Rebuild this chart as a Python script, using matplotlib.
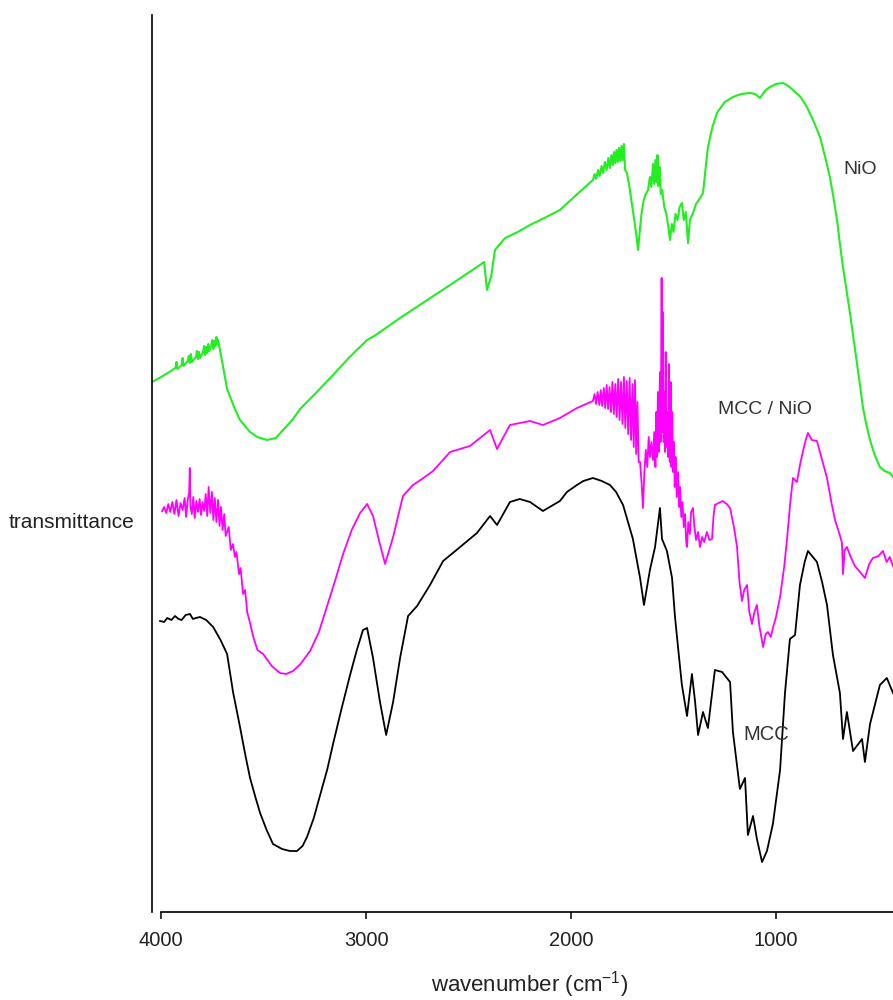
import matplotlib
matplotlib.use("Agg")
import matplotlib.pyplot as plt

plt.rcParams['font.family'] = ['Liberation Sans', 'DejaVu Sans']
plt.rcParams['mathtext.default'] = 'regular'

# ---- FTIR spectra: wavenumber (cm-1) and transmittance (arbitrary, offset units) ----
nio_wn = [4044, 4000, 3960, 3930, 3925, 3920, 3900, 3895, 3890, 3870, 3865, 3860, 3855, 3850,
          3830, 3825, 3820, 3815, 3810, 3795, 3790, 3785, 3780, 3775, 3770, 3765, 3755, 3750,
          3745, 3740, 3735, 3730, 3725, 3722, 3700, 3678, 3640, 3615, 3566, 3530, 3483, 3440,
          3405, 3360, 3322, 3240, 3161, 3080, 2995,
          2960, 2834, 2590, 2444, 2424, 2410, 2400, 2390, 2371, 2322, 2260, 2200, 2130, 2054,
          1980, 1893,
          1885, 1877, 1868, 1860, 1851, 1843, 1835, 1826, 1818, 1810, 1803, 1796, 1790, 1784,
          1778, 1772, 1766, 1760, 1754, 1748, 1742, 1736, 1727, 1715, 1702, 1690, 1680, 1673,
          1665, 1655, 1645, 1635, 1624, 1615, 1608, 1600, 1594, 1588, 1582, 1578, 1573, 1568,
          1562, 1555, 1545, 1535, 1525, 1517, 1508, 1500, 1490, 1480, 1470, 1459, 1450, 1440,
          1429, 1420, 1405, 1390, 1370, 1356, 1345, 1332, 1310, 1288, 1250, 1210, 1170, 1127,
          1100, 1078, 1050, 1029, 1000, 966, 940, 917, 880, 849, 815, 785, 760, 737, 720, 702,
          688, 673, 656, 639, 622, 605, 590, 576, 560, 541, 520, 493, 470, 444, 429]
nio_t = [530, 535, 540, 544, 550, 543, 547, 554, 546, 551, 556, 549, 558, 550,
         555, 561, 553, 560, 554, 560, 566, 557, 565, 559, 568, 561, 567, 572,
         563, 571, 566, 575, 568, 572, 548, 523, 503, 492, 480, 475, 472, 474,
         482, 492, 503, 520, 537, 555, 572,
         576, 594, 627, 647, 650, 622, 629, 635, 662, 674, 680, 687, 694, 702,
         716, 732,
         738, 733, 742, 736, 746, 739, 750, 742, 754, 744, 757, 747, 760, 749,
         762, 750, 764, 751, 766, 752, 768, 742, 739, 725, 707, 690, 675, 662,
         680, 700, 712, 718, 722, 735, 725, 748, 728, 752, 730, 757, 726, 745,
         718, 722, 705, 698, 685, 672, 688, 680, 698, 692, 705, 709, 692, 700,
         669, 692, 699, 708, 714, 719, 740, 765, 785, 799, 810, 815, 818, 819,
         818, 814, 822, 825, 828, 829, 826, 822, 815, 805, 790, 775, 755, 735, 715, 692,
         668, 645, 622, 599, 574, 549, 527, 505, 488, 472, 458, 445, 441, 439, 435]

mccnio_wn = [3995, 3985, 3975, 3965, 3955, 3945, 3935, 3925, 3915, 3905, 3895, 3885, 3878,
             3870, 3863, 3860, 3857, 3850, 3843, 3836, 3828, 3820, 3812, 3805, 3798, 3790,
             3782, 3775, 3768, 3760, 3752, 3745, 3738, 3730, 3722, 3715, 3708, 3700, 3692,
             3685, 3670, 3660, 3649, 3640, 3632, 3620, 3612, 3600, 3590, 3580, 3566, 3550,
             3530, 3502, 3460, 3420, 3390, 3356, 3320, 3273, 3230, 3190, 3150, 3112, 3070,
             3029, 2995, 2966, 2935, 2907, 2868, 2820, 2771, 2720, 2673,
             2590, 2493, 2395, 2361, 2298, 2200, 2137, 2054, 1971, 1893,
             1885, 1878, 1870, 1862, 1855, 1848, 1840, 1833, 1826, 1819, 1812, 1805, 1798,
             1791, 1784, 1777, 1770, 1763, 1756, 1749, 1742, 1735, 1728, 1721, 1714, 1707,
             1700, 1694, 1688, 1682, 1676, 1670, 1663, 1656, 1649, 1642, 1635, 1628, 1621,
             1615, 1608, 1600, 1594, 1588, 1584, 1580, 1576, 1572, 1566, 1562, 1558, 1555,
             1552, 1548, 1545, 1541, 1538, 1534, 1530, 1526, 1522, 1518, 1514, 1510, 1506,
             1502, 1498, 1494, 1490, 1484, 1478, 1472, 1468, 1462, 1456, 1450, 1444, 1438,
             1434, 1428, 1420, 1414, 1405, 1398, 1390, 1380, 1371, 1360, 1350, 1337, 1325,
             1312, 1305, 1298, 1280, 1259, 1240, 1224, 1205, 1190, 1178, 1166, 1155, 1141,
             1130, 1117, 1105, 1093, 1080, 1063, 1050, 1039, 1025, 1015, 1000, 980, 960,
             946, 930, 917, 898, 880, 868, 855, 844, 825, 800, 775, 751, 730, 712, 690,
             678, 673, 665, 654, 635, 615, 590, 566, 545, 527, 500, 478, 460, 445, 429]
mccnio_t = [401, 405, 399, 408, 400, 410, 398, 412, 396, 409, 402, 414, 395,
            412, 420, 444, 405, 398, 415, 394, 411, 400, 413, 397, 410, 401,
            418, 396, 425, 399, 420, 392, 414, 390, 412, 386, 405, 382, 398,
            376, 385, 362, 368, 355, 360, 338, 344, 318, 322, 300, 289, 275,
            262, 258, 246, 239, 238, 241, 248, 261, 280, 306, 332, 358, 382,
            399, 408, 396, 370, 348, 375, 416, 427, 434, 441,
            460, 466, 482, 463, 487, 491, 487, 494, 504, 511,
            518, 508, 520, 507, 522, 506, 524, 504, 527, 503, 525, 500, 530,
            498, 528, 495, 533, 492, 530, 488, 535, 484, 531, 478, 534, 472,
            528, 465, 532, 458, 510, 450, 450, 430, 404, 440, 462, 445, 475,
            455, 470, 452, 480, 445, 500, 455, 520, 460, 540, 470, 634, 480,
            600, 470, 520, 460, 560, 465, 500, 455, 548, 450, 530, 445, 500,
            440, 470, 425, 455, 415, 440, 405, 425, 395, 410, 385, 398, 370,
            365, 390, 378, 400, 404, 385, 372, 380, 365, 375, 370, 380, 372,
            373, 395, 407, 409, 411, 408, 404, 385, 365, 330, 311, 322, 327,
            300, 288, 300, 307, 285, 265, 278, 280, 275, 284, 295, 315, 345,
            373, 410, 434, 430, 450, 461, 472, 479, 472, 471, 452, 434, 410, 392, 378,
            369, 338, 362, 365, 355, 346, 340, 334, 348, 354, 356, 361, 350, 355, 346]

mcc_wn = [4005, 3985, 3970, 3950, 3932, 3915, 3900, 3880, 3859, 3845, 3830, 3810, 3780,
          3746, 3710, 3678, 3649, 3615, 3590, 3566, 3540, 3517, 3485, 3454, 3410, 3371,
          3337, 3310, 3288, 3255, 3224, 3190, 3161, 3120, 3078, 3045, 3015, 2995, 2966,
          2932, 2902, 2868, 2834, 2795, 2751, 2688, 2624, 2541, 2459, 2395, 2361, 2298,
          2250, 2200, 2137, 2054, 2020, 1971, 1940, 1893, 1850, 1810, 1780, 1746, 1698,
          1663, 1644, 1615, 1590, 1566, 1556, 1532, 1507, 1493, 1478, 1459, 1434, 1410,
          1395, 1380, 1356, 1332, 1298, 1263, 1224, 1210, 1176, 1151, 1137, 1112, 1093,
          1068, 1044, 1015, 980, 956, 932, 907, 883, 860, 844, 800, 775, 751, 722, 688,
          673, 654, 624, 580, 566, 541, 493, 459, 429]
mcc_t = [291, 290, 294, 292, 296, 293, 292, 297, 298, 293, 294, 295, 292,
         285, 272, 258, 220, 185, 158, 134, 115, 99, 82, 68, 63, 61,
         61, 66, 75, 94, 117, 142, 168, 203, 237, 262, 282, 284, 254,
         210, 177, 210, 254, 296, 306, 327, 351, 365, 379, 396, 387, 410,
         413, 410, 401, 411, 420, 427, 431, 434, 431, 427, 420, 407, 373,
         334, 307, 342, 365, 404, 373, 361, 334, 296, 265, 227, 196, 238,
         211, 177, 200, 184, 242, 240, 230, 180, 123, 134, 77, 96, 73,
         50, 61, 88, 142, 219, 273, 277, 327, 350, 361, 350, 330, 307, 257, 219,
         173, 200, 161, 173, 150, 188, 227, 234, 219]

x_ticks = [4000, 3000, 2000, 1000]

fig = plt.figure(figsize=(8.93, 10.0), dpi=100)
ax = fig.add_axes([0.1703, 0.088, 0.8297, 0.897])

ax.plot(nio_wn, nio_t, color='#22ee22', lw=1.5)
ax.plot(mccnio_wn, mccnio_t, color='#ff00ff', lw=1.3)
ax.plot(mcc_wn, mcc_t, color='black', lw=1.3)

ax.set_xlim(4044, 429)
ax.set_ylim(0, 897)

ax.spines['top'].set_visible(False)
ax.spines['right'].set_visible(False)
ax.spines['bottom'].set_bounds(4000, 429)
ax.spines['left'].set_linewidth(1.2)
ax.spines['bottom'].set_linewidth(1.2)

ax.set_xticks(x_ticks)
ax.set_xticklabels([str(t) for t in x_ticks])
ax.set_yticks([])
ax.tick_params(axis='x', direction='out', length=5, width=1.1, pad=9,
               labelsize=14.5, labelcolor='#222222')

ax.set_xlabel('wavenumber (cm$^{-1}$)', fontsize=16, color='#222222')
ax.xaxis.set_label_coords(0.510, -0.064)
fig.text(0.080, 0.478, 'transmittance', fontsize=15, ha='center', va='center',
         color='#222222')

ax.text(590, 742, 'NiO', fontsize=14, ha='center', va='center', color='#333333')
ax.text(1054, 502, 'MCC / NiO', fontsize=14, ha='center', va='center', color='#333333')
ax.text(1049, 177, 'MCC', fontsize=14.5, ha='center', va='center', color='#333333')

fig.savefig('out.png', dpi=100)
